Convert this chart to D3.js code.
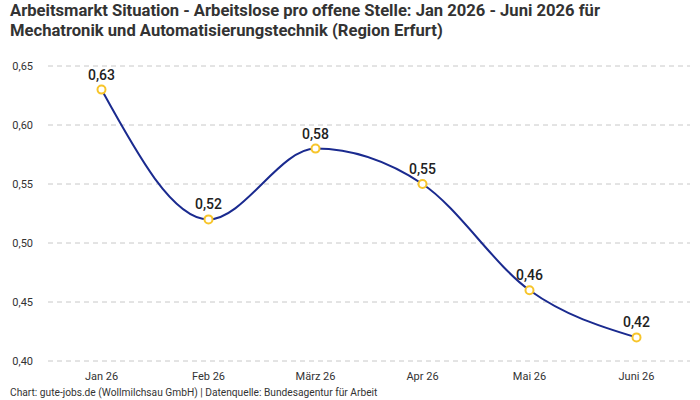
<!DOCTYPE html>
<html>
<head>
<meta charset="utf-8">
<script src="https://cdn.jsdelivr.net/npm/d3@7"></script>
<style>
	body { margin: 0; background: #fff; }
	svg { font-family: Roboto, "Noto Sans", sans-serif; }
</style>
</head>
<body>
<div id="chart"></div>
<script>
// Chart data
const months = ['Jan 26', 'Feb 26', 'März 26', 'Apr 26', 'Mai 26', 'Juni 26'];
const values = [0.63, 0.52, 0.58, 0.55, 0.46, 0.42];
const yTicks = [0.40, 0.45, 0.50, 0.55, 0.60, 0.65];

const width = 700;
const height = 400;
const margin = { top: 66, left: 48, right: 10, bottom: 39 };

const fmt = v => d3.format('.2f')(v).replace('.', ',');

const svg = d3.select('#chart')
	.append('svg')
	.attr('width', width)
	.attr('height', height);

// Title
svg.append('text')
	.attr('x', 10)
	.attr('y', 16)
	.attr('font-size', 16.6)
	.attr('font-weight', 700)
	.attr('fill', '#333')
	.selectAll('tspan')
	.data(['Arbeitsmarkt Situation - Arbeitslose pro offene Stelle: Jan 2026 - Juni 2026 für',
		'Mechatronik und Automatisierungstechnik (Region Erfurt)'])
	.join('tspan')
	.attr('x', 10)
	.attr('dy', (d, i) => i ? 19.5 : 0)
	.text(d => d);

// Scales
const xScale = d3.scalePoint()
	.domain(months)
	.range([margin.left, width - margin.right])
	.padding(0.5);

const yScale = d3.scaleLinear()
	.domain([0.40, 0.65])
	.range([height - margin.bottom, margin.top]);

// Grid lines
svg.append('g')
	.selectAll('line')
	.data(yTicks)
	.join('line')
	.attr('x1', margin.left)
	.attr('x2', width - margin.right)
	.attr('y1', d => yScale(d))
	.attr('y2', d => yScale(d))
	.attr('stroke', '#c8c8c8')
	.attr('stroke-dasharray', '5,4');

// Y axis labels
svg.append('g')
	.selectAll('text')
	.data(yTicks)
	.join('text')
	.attr('x', 33)
	.attr('y', d => yScale(d) + 4)
	.attr('text-anchor', 'end')
	.attr('font-size', 11)
	.attr('fill', '#333')
	.text(d => fmt(d));

// X axis labels
svg.append('g')
	.selectAll('text')
	.data(months)
	.join('text')
	.attr('x', d => xScale(d))
	.attr('y', 380)
	.attr('text-anchor', 'middle')
	.attr('font-size', 11)
	.attr('fill', '#333')
	.text(d => d);

// Line
const line = d3.line()
	.x((d, i) => xScale(months[i]))
	.y(d => yScale(d))
	.curve(d3.curveMonotoneX);

svg.append('path')
	.datum(values)
	.attr('d', line)
	.attr('fill', 'none')
	.attr('stroke', '#1a2a8f')
	.attr('stroke-width', 2);

// Points
svg.append('g')
	.selectAll('circle')
	.data(values)
	.join('circle')
	.attr('cx', (d, i) => xScale(months[i]))
	.attr('cy', d => yScale(d))
	.attr('r', 4)
	.attr('fill', '#fff')
	.attr('stroke', '#f7c52b')
	.attr('stroke-width', 2);

// Value labels
svg.append('g')
	.selectAll('text')
	.data(values)
	.join('text')
	.attr('x', (d, i) => xScale(months[i]))
	.attr('y', d => yScale(d) - 10)
	.attr('text-anchor', 'middle')
	.attr('font-size', 14)
	.attr('font-weight', 500)
	.attr('fill', '#222')
	.text(d => fmt(d));

// Footer
svg.append('text')
	.attr('x', 10)
	.attr('y', 396)
	.attr('font-size', 10.2)
	.attr('fill', '#333')
	.text('Chart: gute-jobs.de (Wollmilchsau GmbH) | Datenquelle: Bundesagentur für Arbeit');
</script>
</body>
</html>
